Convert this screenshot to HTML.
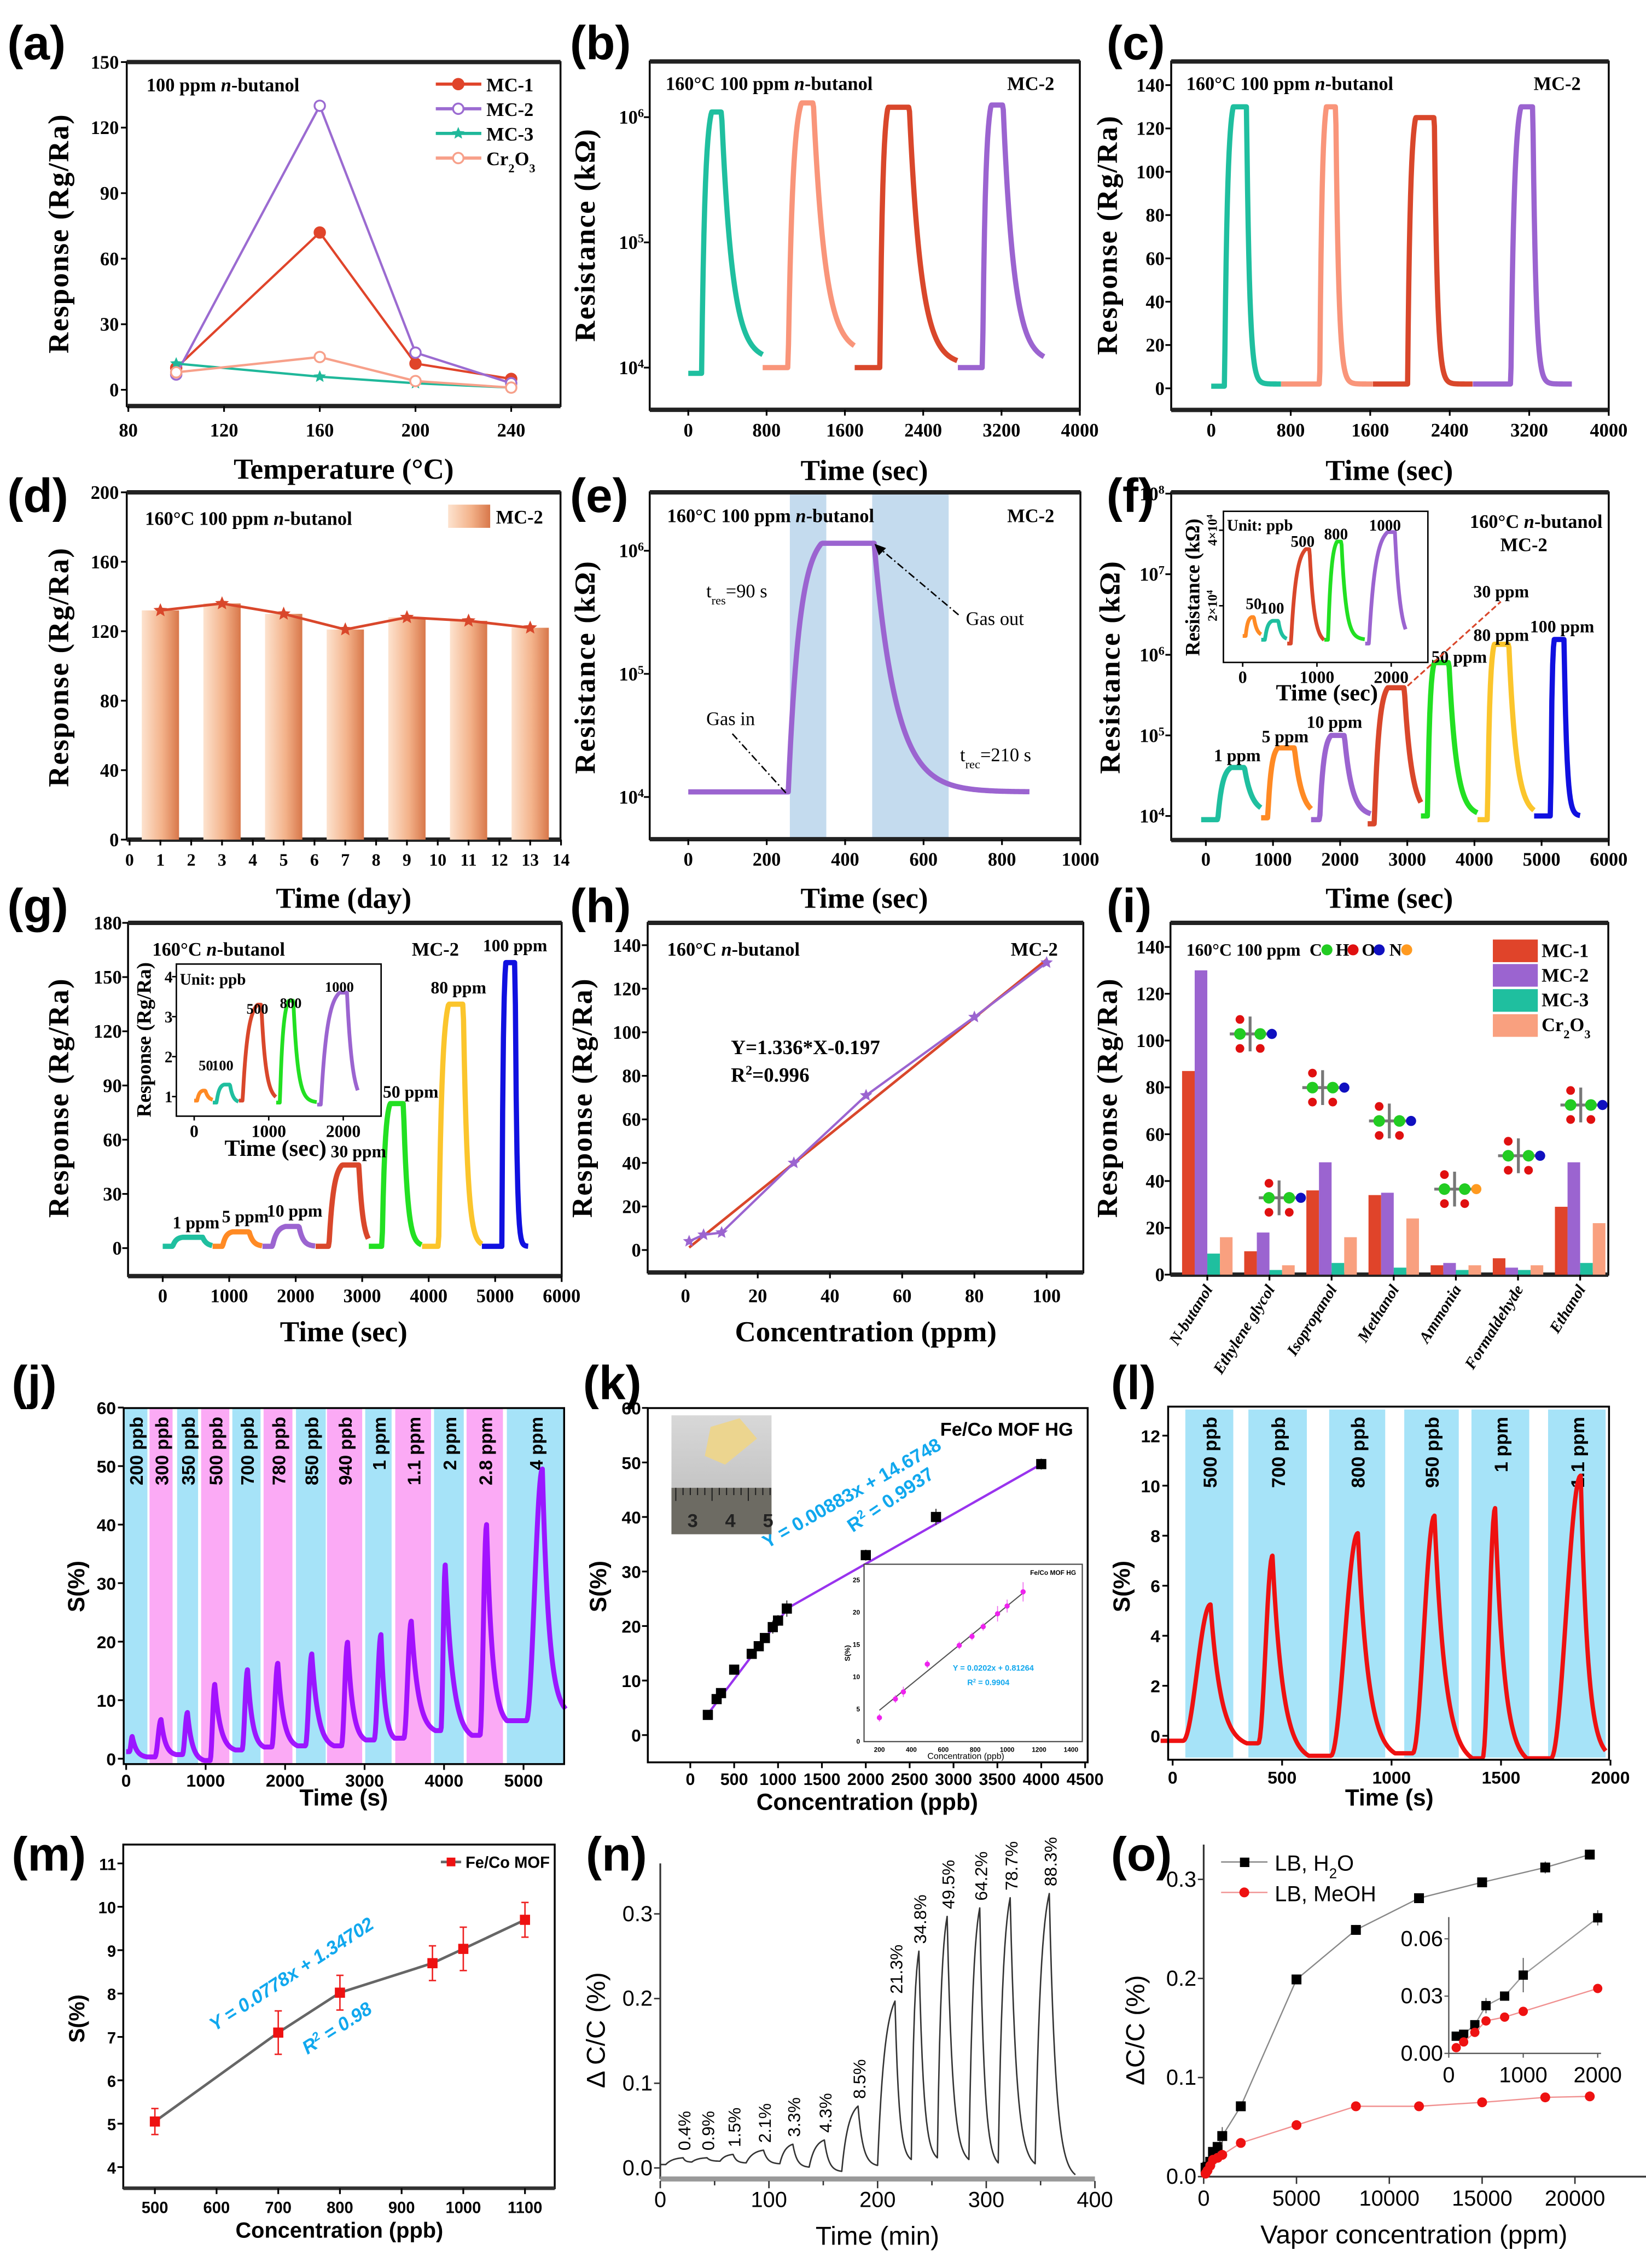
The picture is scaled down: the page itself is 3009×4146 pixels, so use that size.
<!DOCTYPE html>
<html><head><meta charset="utf-8">
<style>html,body{margin:0;padding:0;background:#fff}svg{display:block}</style>
</head><body>
<svg id="fig" xmlns="http://www.w3.org/2000/svg" width="3009" height="4146" viewBox="0 0 1135 1564" preserveAspectRatio="none">
<defs>
<linearGradient id="barGrad" x1="0" x2="1" y1="0" y2="0"><stop offset="0" stop-color="#fde3cf"/><stop offset="0.55" stop-color="#f3b28a"/><stop offset="1" stop-color="#d8774a"/></linearGradient>
<linearGradient id="photoGrad" x1="0" x2="0" y1="0" y2="1"><stop offset="0" stop-color="#d8d8d8"/><stop offset="1" stop-color="#b9b9b9"/></linearGradient>
</defs>
<rect x="0" y="0" width="1135" height="1564" fill="#fff"/>
</svg>
<script>
// ---------- data ----------
const aTemps=[100,160,200,240];
const aMC1=[10,72,12,5];
const aMC2=[7,130,17,3];
const aMC3=[12,6,3,1];
const aCr=[8,15,4,1];
const aXTicks=[80,120,160,200,240];
const aYTicks=[0,30,60,90,120,150];

const bSegStart=[0,760,1700,2754];
const bRise=[136,1020,1958,3006];
const bTop=[238,1156,2040,3094];
const bFall=[340,1278,2258,3216];
const bSegEnd=[760,1700,2754,3638];
const bBase0=[9000,10000,10000,10000];
const bBase1=[11500,13000,10500,11000];
const bPeak=[1.1e6,1.3e6,1.2e6,1.25e6];
const bTau=[110,120,120,110];
const bXTicks=[0,800,1600,2400,3200,4000];

const cSegStart=[0,703,1628,2633];
const cRise=[134,1092,1976,3015];
const cTop=[221,1159,2057,3116];
const cFall=[355,1253,2245,3236];
const cSegEnd=[703,1628,2633,3631];
const cBase0=[1,2,2,2];
const cBase1=[2,2,2,2];
const cPeak=[130,130,125,130];
const cTau=[30,30,30,30];
const cYTicks=[0,20,40,60,80,100,120,140];

const dDays=[1,3,5,7,9,11,13];
const dResp=[132,136,130,121,128,126,122];
const dYTicks=[0,40,80,120,160,200];

const eSegStart=[0];
const eRise=[255];
const eTop=[340];
const eFall=[474];
const eSegEnd=[870];
const eBase0=[11000];
const eBase1=[11000];
const ePeak=[1.15e6];
const eTau=[55];
const eShadeStart=[259,469];
const eShadeEnd=[352,664];
const eXTicks=[0,200,400,600,800,1000];

const fSegStart=[-70,823,1567,2410,3203,4046,4889];
const fRise=[178,922,1696,2509,3302,4195,5137];
const fTop=[377,1071,1864,2707,3401,4294,5187];
const fFall=[575,1319,2063,2955,3620,4512,5335];
const fSegEnd=[823,1567,2459,3203,4046,4889,5583];
const fBase0=[9000,9500,9000,8000,10000,9000,10000];
const fBase1=[11000,10000,10000,10000,10000,10000,10000];
const fPeak=[40000,70000,100000,390000,800000,1350000,1550000];
const fTau=[110,110,110,110,110,110,40];
const fLabels=['1 ppm','5 ppm','10 ppm','30 ppm','50 ppm','80 ppm','100 ppm'];
const fXTicks=[0,1000,2000,3000,4000,5000,6000];
const fiSegStart=[0,250,600,1100,1650];
const fiRise=[40,300,650,1150,1700];
const fiTop=[120,400,850,1270,1950];
const fiFall=[150,480,900,1330,2050];
const fiSegEnd=[250,600,1100,1650,2200];
const fiBase=[12000,11000,10000,11000,10000];
const fiPeak=[17000,16000,35000,37000,39500];
const fiTau=[40,40,60,60,70];

const gSegStart=[0,750,1500,2300,3100,3900,4800];
const gRise=[150,900,1650,2500,3300,4150,5100];
const gTop=[300,1050,1850,2700,3420,4300,5160];
const gFall=[600,1300,2050,2950,3620,4520,5300];
const gSegEnd=[750,1500,2300,3100,3900,4800,5500];
const gBase=[1,1,1,1,1,1,1];
const gPeak=[6,9,12,46,80,135,158];
const gTau=[60,60,60,60,60,60,25];
const gYTicks=[0,30,60,90,120,150,180];
const giSegStart=[0,250,600,1100,1650];
const giRise=[40,300,650,1150,1700];
const giTop=[120,400,850,1270,1950];
const giFall=[150,480,900,1330,2050];
const giSegEnd=[250,600,1100,1650,2200];
const giBase=[0.9,0.85,0.9,0.85,0.8];
const giPeak=[1.15,1.3,3.3,3.4,3.6];
const giTau=[40,40,60,60,70];

const hConc=[1,5,10,30,50,80,100];
const hResp=[4,7,8,40,71,107,132];
const hSlope=1.336;
const hIntercept=-0.197;

const iCats=['N-butanol','Ethylene glycol','Isopropanol','Methanol','Ammonia','Formaldehyde','Ethanol'];
const iMC1=[87,10,36,34,4,7,29];
const iMC2=[130,18,48,35,5,3,48];
const iMC3=[9,2,5,3,2,2,5];
const iCr=[16,4,16,24,4,4,22];

const jPeakT=[76,439,771,1115,1527,1908,2336,2786,3206,3588,4015,4535,5237];
const jPeak=[3.8,6.7,7.9,12.7,15.2,16.3,17.9,19.9,21.2,23.5,33.1,40,49.5];
const jValleyT=[267,630,985,1374,1737,2157,2615,3015,3378,3893,4351,4790,5530];
const jValley=[0.3,0.7,-0.3,1.5,2,2.2,2.2,3.2,3.5,4.8,4.0,6.5,8.5];
const jBandStart=[-30,294,641,943,1336,1729,2137,2527,3008,3386,3874,4283,4790];
const jBandEnd=[267,584,905,1298,1691,2092,2511,2970,3340,3836,4248,4741,5535];
const jBandLabels=['200 ppb','300 ppb','350 ppb','500 ppb','700 ppb','780 ppb','850 ppb','940 ppb','1 ppm','1.1 ppm','2 ppm','2.8 ppm','4 ppm'];

const kConc=[200,300,350,500,700,780,850,940,1000,1100,2000,2800,4000];
const kS=[3.7,6.6,7.7,12,14.9,16.3,17.8,19.8,21,23.2,33,40,49.7];
const kErr=[0.6,0.6,0.8,0.6,0.6,0.6,0.6,1.2,1.0,1.5,1.0,1.5,1.0];
const kLowFit=[0.0202,0.81264];
const kHighFit=[0.00883,14.6748];

const lPeakT=[173,456,846,1196,1473,1864];
const lPeak=[5.25,7.2,8.1,8.8,9.1,10.4];
const lValleyT=[339,622,1016,1369,1618,1978];
const lValley=[-0.3,-0.8,-0.7,-0.9,-0.9,-0.6];
const lBandStart=[58,346,715,1058,1365,1715];
const lBandEnd=[277,613,971,1307,1629,1978];
const lBandLabels=['500 ppb','700 ppb','800 ppb','950 ppb','1 ppm','1.1 ppm'];

const mConc=[500,700,800,950,1000,1100];
const mS=[5.05,7.1,8.02,8.7,9.03,9.7];
const mErr=[0.3,0.5,0.4,0.4,0.5,0.4];

const nStart=[5,29,55,79,110,137,167,200,231,255,284,311,345];
const nPeakT=[21,43,67,95,122,151,182,216,238,264,294,322,358];
const nPeak=[0.012,0.012,0.016,0.021,0.028,0.033,0.073,0.197,0.256,0.297,0.307,0.319,0.324];
const nValley=[0.007,0.008,0.006,0.005,0.001,-0.004,0.003,0.01,0.012,0.01,0.006,0.005,-0.008];
const nLabels=['0.4%','0.9%','1.5%','2.1%','3.3%','4.3%','8.5%','21.3%','34.8%','49.5%','64.2%','78.7%','88.3%'];

const oConc=[100,200,350,500,750,1000,2000,5000,8200,11600,15000,18400,20800];
const oH2O=[0.009,0.01,0.015,0.025,0.03,0.041,0.071,0.199,0.249,0.281,0.297,0.312,0.325];
const oMeOH=[0.003,0.006,0.011,0.017,0.019,0.022,0.034,0.052,0.071,0.071,0.075,0.08,0.081];
const oH2OErr=[0.001,0.001,0.002,0.004,0.002,0.009,0.004,0.004,0.005,0.004,0.003,0.006,0.005];

// ---------- helpers ----------
const NS='http://www.w3.org/2000/svg';
const root=document.getElementById('fig');
const SERIF='"Liberation Serif", serif';
const SANS='"Liberation Sans", sans-serif';
function el(p,tag,a,name){
  const e=document.createElementNS(NS,tag);
  for(const k in a) e.setAttribute(k,a[k]);
  
  
  p.appendChild(e);
  return e;
}
function grp(name){return el(root,'g',{},name);}
function T(p,x,y,s,o,name){
  o=o||{};
  const a={x:x,y:y,'font-family':o.f||SERIF,'font-size':o.s||13,'font-weight':o.w||'bold',fill:o.c||'#000','text-anchor':o.a||'start'};
  if(o.r!==undefined) a.transform='rotate('+o.r+' '+x+' '+y+')';
  if(o.ls) a['letter-spacing']=o.ls;
  if(o.st) a['font-style']=o.st;
  const e=el(p,'text',a,name);
  if(typeof s==='string'){e.textContent=s;}
  else{
    s.forEach(part=>{
      const ta={};
      if(part.i) ta['font-style']='italic';
      if(part.sup){ta['baseline-shift']='super';ta['font-size']='65%';}
      if(part.sub){ta['baseline-shift']='sub';ta['font-size']='65%';}
      const t=el(e,'tspan',ta,name+'-part');
      t.textContent=part.t;
    });
  }
  return e;
}
function L(d0,d1,r0,r1){return v=>r0+(v-d0)*(r1-r0)/(d1-d0);}
function LG(d0,d1,r0,r1){const f=L(d0,d1,r0,r1);return v=>f(Math.log10(v));}
function ln(p,x1,y1,x2,y2,c,w,name,dash){const a={x1:x1,y1:y1,x2:x2,y2:y2,stroke:c,'stroke-width':w};if(dash)a['stroke-dasharray']=dash;return el(p,'line',a,name);}
function frame(p,x0,y0,x1,y1,name,tb){
  el(p,'rect',{x:x0,y:y0,width:x1-x0,height:y1-y0,fill:'none',stroke:'#000','stroke-width':1.3},name);
  if(tb){ln(p,x0,y0,x1,y0,'#222',3,name+'-top');ln(p,x0,y1,x1,y1,'#222',3,name+'-bottom');}
}
function xt(p,sx,vals,labs,yA,ly,o,name){
  vals.forEach((v,i)=>{const x=sx(v);ln(p,x,yA,x,yA+4,'#000',1.2,name+'-tick');T(p,x,ly,labs[i],Object.assign({a:'middle'},o),name+'-label');});
}
function yt(p,sy,vals,labs,xA,lx,o,name){
  vals.forEach((v,i)=>{const y=sy(v);ln(p,xA-4,y,xA,y,'#000',1.2,name+'-tick');T(p,lx,y+4.5,labs[i],Object.assign({a:'end'},o),name+'-label');});
}
function poly(p,pts,c,w,name,extra){const a={points:pts.map(q=>q[0].toFixed(2)+','+q[1].toFixed(2)).join(' '),fill:'none',stroke:c,'stroke-width':w,'stroke-linejoin':'round'};if(extra)Object.assign(a,extra);return el(p,'polyline',a,name);}
function starPts(cx,cy,r){const a=[];for(let k=0;k<10;k++){const rr=k%2?r*0.45:r;const t=-Math.PI/2+k*Math.PI/5;a.push((cx+rr*Math.cos(t)).toFixed(2)+','+(cy+rr*Math.sin(t)).toFixed(2));}return a.join(' ');}
function star(p,cx,cy,r,c,name){return el(p,'polygon',{points:starPts(cx,cy,r),fill:c},name);}
function pulseSeg(s,r,pk0,q,e,b0,b1,pk,tau,dt,lg){
  const pts=[];const tr=x=>lg?Math.log10(x):x, inv=x=>lg?Math.pow(10,x):x;
  const B0=tr(b0),B1=tr(b1),PK=tr(pk);
  for(let t=s;t<=e+1e-9;t+=dt){
    let v;
    if(t<r) v=B0;
    else if(t<pk0){const u=(t-r)/(pk0-r);v=B0+(PK-B0)*(1-Math.exp(-3*u))/(1-Math.exp(-3));}
    else if(t<=q) v=PK;
    else v=B1+(PK-B1)*Math.exp(-(t-q)/tau);
    pts.push([t,inv(v)]);
  }
  return pts;
}
function peakValley(t0,v0,PT,PV,VT,VV,riseFrac,dt){
  const pts=[[t0,v0]];let pt=t0,pv=v0;
  for(let i=0;i<PT.length;i++){
    const rs=PT[i]-riseFrac*(PT[i]-pt);
    for(let t=pt+dt;t<PT[i];t+=dt){let v;if(t<rs)v=pv;else{const u=(t-rs)/(PT[i]-rs);v=pv+(PV[i]-pv)*(1-Math.cos(Math.PI*u))/2;}pts.push([t,v]);}
    pts.push([PT[i],PV[i]]);
    for(let t=PT[i]+dt;t<VT[i];t+=dt){const u=(t-PT[i])/(VT[i]-PT[i]);const f=(Math.exp(-3.5*u)-Math.exp(-3.5))/(1-Math.exp(-3.5));pts.push([t,VV[i]+(PV[i]-VV[i])*f]);}
    pts.push([VT[i],VV[i]]);pt=VT[i];pv=VV[i];
  }
  return pts;
}
const fmt=v=>String(v);

// ================= PANEL A =================
(function(){
  const g=grp('panel-a');
  const sx=L(80,240,88.5,352.5), sy=L(0,150,268.8,42.8);
  T(g,5,41,'(a)',{f:SANS,s:33},'panel-label-a');
  frame(g,87.4,42.8,386.5,280,'plot-frame-a',true);
  xt(g,sx,aXTicks,aXTicks.map(fmt),280,301,{s:13},'x-tick-a');
  yt(g,sy,aYTicks,aYTicks.map(fmt),87.4,82,{s:13},'y-tick-a');
  T(g,47,161,'Response (Rg/Ra)',{s:20,a:'middle',r:-90,ls:0.8},'y-axis-title-a');
  T(g,237,330,'Temperature (°C)',{s:20,a:'middle'},'x-axis-title-a');
  T(g,101,63,[{t:'100 ppm '},{t:'n',i:1},{t:'-butanol'}],{s:13},'panel-title-a');
  const series=[[aMC1,'#e0442a','filled'],[aMC2,'#9b6bd1','half'],[aMC3,'#1fb89a','star'],[aCr,'#f7a08a','open']];
  const names=['MC-1','MC-2','MC-3','Cr2O3'];
  series.forEach((s,k)=>{
    poly(g,aTemps.map((t,i)=>[sx(t),sy(s[0][i])]),s[1],1.6,'series-line-'+names[k]);
    aTemps.forEach((t,i)=>{
      const x=sx(t),y=sy(s[0][i]);
      if(s[2]==='star') star(g,x,y,4.5,s[1],'marker-'+names[k]);
      else el(g,'circle',{cx:x,cy:y,r:3.6,fill:s[2]==='filled'?s[1]:'#fff',stroke:s[1],'stroke-width':1.3},'marker-'+names[k]);
    });
    const ly=58+k*17;
    ln(g,300.5,ly,331.9,ly,s[1],2.2,'legend-line-'+names[k]);
    if(s[2]==='star') star(g,316,ly,4.5,s[1],'legend-marker-'+names[k]);
    else el(g,'circle',{cx:316,cy:ly,r:3.6,fill:s[2]==='filled'?s[1]:'#fff',stroke:s[1],'stroke-width':1.3},'legend-marker-'+names[k]);
  });
  T(g,335.4,63,'MC-1',{s:13},'legend-label-mc1');
  T(g,335.4,80,'MC-2',{s:13},'legend-label-mc2');
  T(g,335.4,97,'MC-3',{s:13},'legend-label-mc3');
  T(g,335.4,114,[{t:'Cr'},{t:'2',sub:1},{t:'O'},{t:'3',sub:1}],{s:13},'legend-label-cr2o3');
})();

function drawPulses(g,sx,sy,S,R,P,Q,E,B0,B1,PK,TAU,colors,lg,dt,w,name){
  S.forEach((s,i)=>{
    const pts=pulseSeg(s,R[i],P[i],Q[i],E[i],B0[i],B1[i],PK[i],TAU[i],dt,lg);
    poly(g,pts.map(q=>[sx(q[0]),sy(q[1])]),colors[i],w,name+'-'+i);
  });
}

// ================= PANEL B =================
(function(){
  const g=grp('panel-b');
  const sx=L(0,4000,474.6,744.6), sy=LG(4,6,253.5,80.8);
  T(g,393,41,'(b)',{f:SANS,s:33},'panel-label-b');
  frame(g,448,42.4,744.6,282.6,'plot-frame-b',true);
  xt(g,sx,bXTicks,bXTicks.map(fmt),282.6,301,{s:13},'x-tick-b');
  [1e4,1e5,1e6].forEach((v,i)=>{const y=sy(v);ln(g,444,y,448,y,'#000',1.2,'y-tick-b');T(g,444,y+4.5,[{t:'10'},{t:String(4+i),sup:1}],{s:13,a:'end'},'y-tick-label-b');});
  T(g,410,162,'Resistance (kΩ)',{s:20,a:'middle',r:-90,ls:0.8},'y-axis-title-b');
  T(g,596,331,'Time (sec)',{s:20,a:'middle'},'x-axis-title-b');
  T(g,459,62,[{t:'160°C 100 ppm '},{t:'n',i:1},{t:'-butanol'}],{s:13},'panel-title-b');
  T(g,727,62,'MC-2',{s:13,a:'end'},'sample-label-b');
  drawPulses(g,sx,sy,bSegStart,bRise,bTop,bFall,bSegEnd,bBase0,bBase1,bPeak,bTau,['#1fbf9f','#f9957a','#d9472b','#9b64d0'],true,8,3.6,'resistance-trace-b');
})();

// ================= PANEL C =================
(function(){
  const g=grp('panel-c');
  const sx=L(0,4000,835.2,1109.3), sy=L(0,140,267.8,58.7);
  T(g,763,41,'(c)',{f:SANS,s:33},'panel-label-c');
  frame(g,807.6,42.4,1109.3,282.7,'plot-frame-c',true);
  xt(g,sx,bXTicks,bXTicks.map(fmt),282.7,301,{s:13},'x-tick-c');
  yt(g,sy,cYTicks,cYTicks.map(fmt),807.6,803,{s:13},'y-tick-c');
  T(g,770,162,'Response (Rg/Ra)',{s:20,a:'middle',r:-90,ls:0.8},'y-axis-title-c');
  T(g,958,331,'Time (sec)',{s:20,a:'middle'},'x-axis-title-c');
  T(g,818,62,[{t:'160°C 100 ppm '},{t:'n',i:1},{t:'-butanol'}],{s:13},'panel-title-c');
  T(g,1090,62,'MC-2',{s:13,a:'end'},'sample-label-c');
  drawPulses(g,sx,sy,cSegStart,cRise,cTop,cFall,cSegEnd,cBase0,cBase1,cPeak,cTau,['#1fbf9f','#f9957a','#d9472b','#9b64d0'],false,6,3.6,'response-trace-c');
})();

// ================= PANEL D =================
(function(){
  const g=grp('panel-d');
  const sx=L(1,13,110.6,365.6), sy=L(0,200,579,339.5);
  T(g,5,353,'(d)',{f:SANS,s:33},'panel-label-d');
  frame(g,87.4,339.5,386.5,579,'plot-frame-d',true);
  const dx=[0,1,2,3,4,5,6,7,8,9,10,11,12,13,14];
  xt(g,sx,dx,dx.map(fmt),579,597,{s:12},'x-tick-d');
  yt(g,sy,dYTicks,dYTicks.map(fmt),87.4,82,{s:13},'y-tick-d');
  T(g,47,460,'Response (Rg/Ra)',{s:20,a:'middle',r:-90,ls:0.8},'y-axis-title-d');
  T(g,237,626,'Time (day)',{s:20,a:'middle'},'x-axis-title-d');
  T(g,100,362,[{t:'160°C 100 ppm '},{t:'n',i:1},{t:'-butanol'}],{s:13},'panel-title-d');
  dDays.forEach((d,i)=>{el(g,'rect',{x:sx(d)-12.85,y:sy(dResp[i]),width:25.7,height:sy(0)-sy(dResp[i]),fill:'url(#barGrad)'},'bar-day-'+d);});
  poly(g,dDays.map((d,i)=>[sx(d),sy(dResp[i])]),'#d9472b',1.8,'response-line-d');
  dDays.forEach((d,i)=>star(g,sx(d),sy(dResp[i]),5,'#d9472b','star-marker-d'));
  el(g,'rect',{x:309,y:348,width:29,height:16,fill:'url(#barGrad)'},'legend-swatch-d');
  T(g,342,361,'MC-2',{s:13},'legend-label-d');
})();

// ================= PANEL E =================
(function(){
  const g=grp('panel-e');
  const sx=L(0,1000,474.6,745), sy=LG(4,6,549.6,379.8);
  T(g,393,353,'(e)',{f:SANS,s:33},'panel-label-e');
  eShadeStart.forEach((s,i)=>el(g,'rect',{x:sx(s),y:339.5,width:sx(eShadeEnd[i])-sx(s),height:239.2,fill:'#c4dbee'},'shaded-region-'+i));
  frame(g,448,339.5,745,578.7,'plot-frame-e',true);
  xt(g,sx,eXTicks,eXTicks.map(fmt),578.7,597,{s:13},'x-tick-e');
  [1e4,1e5,1e6].forEach((v,i)=>{const y=sy(v);ln(g,444,y,448,y,'#000',1.2,'y-tick-e');T(g,444,y+4.5,[{t:'10'},{t:String(4+i),sup:1}],{s:13,a:'end'},'y-tick-label-e');});
  T(g,410,460,'Resistance (kΩ)',{s:20,a:'middle',r:-90,ls:0.8},'y-axis-title-e');
  T(g,596,626,'Time (sec)',{s:20,a:'middle'},'x-axis-title-e');
  T(g,460,360,[{t:'160°C 100 ppm '},{t:'n',i:1},{t:'-butanol'}],{s:13},'panel-title-e');
  T(g,727,360,'MC-2',{s:13,a:'end'},'sample-label-e');
  drawPulses(g,sx,sy,eSegStart,eRise,eTop,eFall,eSegEnd,eBase0,eBase1,ePeak,eTau,['#9b64d0'],true,3,3.6,'resistance-trace-e');
  T(g,487,500,'Gas in',{s:13,w:'normal'},'annotation-gas-in');
  ln(g,505,506,543,548,'#000',1,'arrow-gas-in','5,2,1,2');
  T(g,666,431,'Gas out',{s:13,w:'normal'},'annotation-gas-out');
  ln(g,661,424,604,376,'#000',1,'arrow-gas-out','5,2,1,2');
  el(g,'polygon',{points:'603,375 611,378 606,383'},'arrowhead-gas-out');
  T(g,487,412,[{t:'t'},{t:'res',sub:1},{t:'=90 s'}],{s:13,w:'normal'},'annotation-t-res');
  T(g,662,525,[{t:'t'},{t:'rec',sub:1},{t:'=210 s'}],{s:13,w:'normal'},'annotation-t-rec');
})();

// ================= PANEL F =================
(function(){
  const g=grp('panel-f');
  const sx=L(0,6000,831.5,1109.3), sy=LG(4,8,562.7,340.4);
  T(g,763,353,'(f)',{f:SANS,s:33},'panel-label-f');
  frame(g,807.6,339.5,1109.3,579.3,'plot-frame-f',true);
  xt(g,sx,fXTicks,fXTicks.map(fmt),579.3,597,{s:13},'x-tick-f');
  [1e4,1e5,1e6,1e7,1e8].forEach((v,i)=>{const y=sy(v);ln(g,803.6,y,807.6,y,'#000',1.2,'y-tick-f');T(g,803,y+4.5,[{t:'10'},{t:String(4+i),sup:1}],{s:13,a:'end'},'y-tick-label-f');});
  T(g,772,460,'Resistance (kΩ)',{s:20,a:'middle',r:-90,ls:0.8},'y-axis-title-f');
  T(g,958,626,'Time (sec)',{s:20,a:'middle'},'x-axis-title-f');
  const cols=['#1fbf9f','#ff8a24','#9b64d0','#d9472b','#22e022','#fbc52c','#1010e0'];
  drawPulses(g,sx,sy,fSegStart,fRise,fTop,fFall,fSegEnd,fBase0,fBase1,fPeak,fTau,cols,true,12,3.6,'resistance-trace-f');
  const lp=[[837,525],[870,512],[901,502],[1016,412],[987,457],[1016,442],[1055,436]];
  fLabels.forEach((s,i)=>T(g,lp[i][0],lp[i][1],s,{s:12},'peak-label-'+s.replace(' ','-')));
  ln(g,970.6,473,1034.9,414.9,'#d9472b',1.2,'dashed-arrow-f','4,2');
  T(g,1105,364,[{t:'160°C '},{t:'n',i:1},{t:'-butanol'}],{s:13,a:'end'},'panel-title-f');
  T(g,1067,380,'MC-2',{s:13,a:'end'},'sample-label-f');
  const ix=L(0,2000,856.9,959.3), iy=L(5000,45000,456.8,352.6);
  el(g,'rect',{x:843.6,y:352.6,width:141,height:104.2,fill:'#fff',stroke:'#000','stroke-width':1},'inset-frame-f');
  [0,1000,2000].forEach(v=>{ln(g,ix(v),456.8,ix(v),459.8,'#000',1,'inset-x-tick-f');T(g,ix(v),471,String(v),{s:12,a:'middle'},'inset-x-label-f');});
  [20000,40000].forEach((v,i)=>{ln(g,840.6,iy(v),843.6,iy(v),'#000',1,'inset-y-tick-f');T(g,839,iy(v),[{t:(2*(i+1))+'×10'},{t:'4',sup:1}],{s:9,a:'middle',r:-90},'inset-y-label-f');});
  T(g,827,405,'Resistance (kΩ)',{s:14,a:'middle',r:-90},'inset-y-title-f');
  T(g,915,483,'Time (sec)',{s:16,a:'middle'},'inset-x-title-f');
  T(g,846,366,'Unit: ppb',{s:11},'inset-unit-f');
  const icol=['#ff8a24','#1fbf9f','#d9472b','#22e022','#9b64d0'];
  fiSegStart.forEach((s,i)=>{const pts=pulseSeg(s,fiRise[i],fiTop[i],fiFall[i],fiSegEnd[i],fiBase[i],fiBase[i],fiPeak[i],fiTau[i],8,false);poly(g,pts.map(q=>[ix(q[0]),iy(q[1])]),icol[i],2.6,'inset-trace-f-'+i);});
  T(g,859,420,'50',{s:11},'inset-label-50');
  T(g,869,423,'100',{s:11},'inset-label-100');
  T(g,890,377,'500',{s:11},'inset-label-500');
  T(g,913,372,'800',{s:11},'inset-label-800');
  T(g,944,366,'1000',{s:11},'inset-label-1000');
})();

// ================= PANEL G =================
(function(){
  const g=grp('panel-g');
  const sx=L(0,6000,112.2,387.3), sy=L(0,180,860.7,636.4);
  T(g,5,636,'(g)',{f:SANS,s:33},'panel-label-g');
  frame(g,88.3,636.4,387.3,880,'plot-frame-g',true);
  xt(g,sx,fXTicks,fXTicks.map(fmt),880,898,{s:13},'x-tick-g');
  yt(g,sy,gYTicks,gYTicks.map(fmt),88.3,84,{s:13},'y-tick-g');
  T(g,47,757,'Response (Rg/Ra)',{s:20,a:'middle',r:-90,ls:0.8},'y-axis-title-g');
  T(g,237,925,'Time (sec)',{s:20,a:'middle'},'x-axis-title-g');
  const cols=['#1fbf9f','#ff8a24','#9b64d0','#d9472b','#22e022','#fbc52c','#1010e0'];
  drawPulses(g,sx,sy,gSegStart,gRise,gTop,gFall,gSegEnd,gBase,gBase,gPeak,gTau,cols,false,12,3.6,'response-trace-g');
  const lab=['1 ppm','5 ppm','10 ppm','30 ppm','50 ppm','80 ppm','100 ppm'];
  const lp=[[119,847],[153,843],[184,839],[228,798],[264,757],[297,685],[333,656]];
  lab.forEach((s,i)=>T(g,lp[i][0],lp[i][1],s,{s:12},'peak-label-g-'+i));
  T(g,105,659,[{t:'160°C '},{t:'n',i:1},{t:'-butanol'}],{s:13},'panel-title-g');
  T(g,284,659,'MC-2',{s:13},'sample-label-g');
  const ix=L(0,2000,133.9,236.7), iy=L(1,4,756.2,673.5);
  el(g,'rect',{x:121.6,y:664.8,width:141.2,height:104.9,fill:'#fff',stroke:'#000','stroke-width':1},'inset-frame-g');
  [0,1000,2000].forEach(v=>{ln(g,ix(v),769.7,ix(v),772.7,'#000',1,'inset-x-tick-g');T(g,ix(v),784,String(v),{s:12,a:'middle'},'inset-x-label-g');});
  [1,2,3,4].forEach(v=>{ln(g,118.6,iy(v),121.6,iy(v),'#000',1,'inset-y-tick-g');T(g,119,iy(v)+4,String(v),{s:11,a:'end'},'inset-y-label-g');});
  T(g,104,717,'Response (Rg/Ra)',{s:14,a:'middle',r:-90},'inset-y-title-g');
  T(g,190,797,'Time (sec)',{s:16,a:'middle'},'inset-x-title-g');
  T(g,124,679,'Unit: ppb',{s:11},'inset-unit-g');
  const icol=['#ff8a24','#1fbf9f','#d9472b','#22e022','#9b64d0'];
  giSegStart.forEach((s,i)=>{const pts=pulseSeg(s,giRise[i],giTop[i],giFall[i],giSegEnd[i],giBase[i],giBase[i],giPeak[i],giTau[i],8,false);poly(g,pts.map(q=>[ix(q[0]),iy(q[1])]),icol[i],2.6,'inset-trace-g-'+i);});
  T(g,137,738,'50',{s:10},'inset-label-g-50');
  T(g,146,738,'100',{s:10},'inset-label-g-100');
  T(g,170,699,'500',{s:10},'inset-label-g-500');
  T(g,193,695,'800',{s:10},'inset-label-g-800');
  T(g,224,684,'1000',{s:10},'inset-label-g-1000');
})();

// ================= PANEL H =================
(function(){
  const g=grp('panel-h');
  const sx=L(0,100,472.7,721.7), sy=L(0,140,862,651.8);
  T(g,393,636,'(h)',{f:SANS,s:33},'panel-label-h');
  frame(g,446.6,636.4,747,877.5,'plot-frame-h',true);
  const xv=[0,20,40,60,80,100];
  xt(g,sx,xv,xv.map(fmt),877.5,898,{s:13},'x-tick-h');
  yt(g,sy,cYTicks,cYTicks.map(fmt),446.6,442,{s:13},'y-tick-h');
  T(g,408,757,'Response (Rg/Ra)',{s:20,a:'middle',r:-90,ls:0.8},'y-axis-title-h');
  T(g,597,925,'Concentration (ppm)',{s:20,a:'middle'},'x-axis-title-h');
  T(g,460,659,[{t:'160°C '},{t:'n',i:1},{t:'-butanol'}],{s:13},'panel-title-h');
  T(g,697,659,'MC-2',{s:13},'sample-label-h');
  ln(g,sx(1),sy(hSlope*1+hIntercept),sx(100),sy(hSlope*100+hIntercept),'#d9472b',1.8,'fit-line-h');
  poly(g,hConc.map((c,i)=>[sx(c),sy(hResp[i])]),'#9b64d0',1.6,'response-line-h');
  hConc.forEach((c,i)=>star(g,sx(c),sy(hResp[i]),4.5,'#9b64d0','star-marker-h'));
  T(g,504,727,'Y=1.336*X-0.197',{s:14},'fit-equation-h');
  T(g,504,746,[{t:'R'},{t:'2',sup:1},{t:'=0.996'}],{s:14},'r-squared-h');
})();

// ================= PANEL I =================
(function(){
  const g=grp('panel-i');
  const sy=L(0,140,879,653);
  T(g,763,636,'(i)',{f:SANS,s:33},'panel-label-i');
  frame(g,807.1,636.4,1109,879,'plot-frame-i',true);
  yt(g,sy,cYTicks,cYTicks.map(fmt),807.1,803,{s:13},'y-tick-i');
  T(g,770,757,'Response (Rg/Ra)',{s:20,a:'middle',r:-90,ls:0.8},'y-axis-title-i');
  const sers=[iMC1,iMC2,iMC3,iCr], cols=['#e0442a','#9b64d0','#1fbf9f','#f9a07f'], nm=['MC-1','MC-2','MC-3','Cr2O3'];
  iCats.forEach((c,i)=>{
    const cx=832.5+i*42.85;
    ln(g,cx,879,cx,883,'#000',1.2,'x-tick-i');
    sers.forEach((s,k)=>{el(g,'rect',{x:cx-17.4+k*8.7,y:sy(s[i]),width:8.7,height:879-sy(s[i]),fill:cols[k]},'bar-'+nm[k]+'-'+c.replace(' ','-'));});
    T(g,cx+4,889,c,{s:11,a:'end',r:-58,st:'italic'},'category-label-'+i);
  });
  const ly=[647.9,664.8,682.1,699.4];
  nm.forEach((n,k)=>el(g,'rect',{x:1029.4,y:ly[k],width:31,height:15.6,fill:cols[k]},'legend-swatch-'+n));
  T(g,1063,660,'MC-1',{s:13},'legend-label-i-mc1');
  T(g,1063,677,'MC-2',{s:13},'legend-label-i-mc2');
  T(g,1063,694,'MC-3',{s:13},'legend-label-i-mc3');
  T(g,1063,711,[{t:'Cr'},{t:'2',sub:1},{t:'O'},{t:'3',sub:1}],{s:13},'legend-label-i-cr2o3');
  T(g,818,659,'160°C 100 ppm',{s:12},'panel-title-i');
  [['C',903,'#22cc22'],['H',921,'#e01010'],['O',939,'#1010c0'],['N',958,'#ff9a20']].forEach((a,k)=>{
    T(g,a[1],659,a[0],{s:12},'atom-key-label-'+a[0]);
    el(g,'circle',{cx:a[1]+12,cy:655,r:3.8,fill:a[2]},'atom-key-'+k);
  });
  const mols=[[862,713],[882,826],[912,750],[958,773],[1003,820],[1047,797],[1090,762]];
  mols.forEach((m,k)=>{
    const mg=el(g,'g',{},'molecule-'+k);
    ln(mg,m[0]-14,m[1],m[0]+14,m[1],'#777',2,'molecule-bond');
    ln(mg,m[0],m[1]-12,m[0],m[1]+12,'#777',2,'molecule-bond');
    el(mg,'circle',{cx:m[0]-7,cy:m[1],r:4,fill:'#22cc22'},'carbon-atom');
    el(mg,'circle',{cx:m[0]+7,cy:m[1],r:4,fill:'#22cc22'},'carbon-atom');
    el(mg,'circle',{cx:m[0]-7,cy:m[1]-10,r:3,fill:'#e01010'},'hydrogen-atom');
    el(mg,'circle',{cx:m[0]+7,cy:m[1]+10,r:3,fill:'#e01010'},'hydrogen-atom');
    el(mg,'circle',{cx:m[0]-7,cy:m[1]+10,r:3,fill:'#e01010'},'hydrogen-atom');
    el(mg,'circle',{cx:m[0]+15,cy:m[1],r:3.5,fill:k===4?'#ff9a20':'#1010c0'},'hetero-atom');
  });
})();

// ================= PANEL J =================
(function(){
  const g=grp('panel-j');
  const sx=L(0,1000,87,141.8), sy=L(0,50,1212.8,1011);
  T(g,8,965,'(j)',{f:SANS,s:33},'panel-label-j');
  jBandStart.forEach((s,i)=>{
    const x0=Math.max(sx(s),85.3), x1=Math.min(sx(jBandEnd[i]),389);
    el(g,'rect',{x:x0,y:971,width:x1-x0,height:245.5,fill:i%2?'#fbaaf5':'#a6e3f8'},'band-'+i);
    T(g,(x0+x1)/2+5,977,jBandLabels[i],{f:SANS,s:12.5,a:'end',r:-90},'band-label-'+i);
  });
  const pts=peakValley(0,1.2,jPeakT,jPeak,jValleyT,jValley,0.45,8);
  poly(g,pts.map(q=>[sx(q[0]),sy(q[1])]),'#9900ff',3.4,'signal-trace-j',{'stroke-opacity':0.9});
  frame(g,85.3,971,389,1216.5,'plot-frame-j',false);
  const xv=[0,1000,2000,3000,4000,5000];
  xt(g,sx,xv,xv.map(fmt),1216.5,1232,{f:SANS,s:12},'x-tick-j');
  const yv=[0,10,20,30,40,50,60];
  yt(g,sy,yv,yv.map(fmt),85.3,80,{f:SANS,s:12},'y-tick-j');
  T(g,58,1094,'S(%)',{f:SANS,s:16,a:'middle',r:-90},'y-axis-title-j');
  T(g,237,1245,'Time (s)',{f:SANS,s:16,a:'middle'},'x-axis-title-j');
})();

// ================= PANEL K =================
(function(){
  const g=grp('panel-k');
  const sx=L(0,4000,476,718), sy=L(0,10,1196.5,1158.9);
  T(g,402,965,'(k)',{f:SANS,s:33},'panel-label-k');
  frame(g,446.7,971,750,1215.3,'plot-frame-k',false);
  const xv=[0,500,1000,1500,2000,2500,3000,3500,4000,4500];
  xt(g,sx,xv,xv.map(fmt),1215.3,1231,{f:SANS,s:11.5},'x-tick-k');
  const yv=[0,10,20,30,40,50,60];
  yt(g,sy,yv,yv.map(fmt),446.7,442,{f:SANS,s:12},'y-tick-k');
  T(g,418,1094,'S(%)',{f:SANS,s:16,a:'middle',r:-90},'y-axis-title-k');
  T(g,598,1248,'Concentration (ppb)',{f:SANS,s:16,a:'middle'},'x-axis-title-k');
  ln(g,sx(200),sy(kLowFit[0]*200+kLowFit[1]-1),sx(1100),sy(kLowFit[0]*1100+kLowFit[1]),'#9933ee',1.6,'fit-line-low-k');
  ln(g,sx(1100),sy(kHighFit[0]*1100+kHighFit[1]-1.2),sx(4000),sy(kHighFit[0]*4000+kHighFit[1]-0.3),'#9933ee',1.6,'fit-line-high-k');
  kConc.forEach((c,i)=>{const x=sx(c),y=sy(kS[i]);ln(g,x,sy(kS[i]-kErr[i]),x,sy(kS[i]+kErr[i]),'#444',0.8,'error-bar-k');el(g,'rect',{x:x-3.5,y:y-3.5,width:7,height:7,fill:'#000'},'data-point-k');});
  T(g,740,990,'Fe/Co MOF HG',{f:SANS,s:13,a:'end'},'panel-title-k');
  T(g,529,1068,'Y = 0.00883x + 14.6748',{f:SANS,s:13,c:'#11a8ee',r:-29.7},'fit-equation-k');
  T(g,588,1057,[{t:'R'},{t:'2',sup:1},{t:' = 0.9937'}],{f:SANS,s:13,c:'#11a8ee',r:-34},'r-squared-k');
  el(g,'rect',{x:463,y:976,width:69,height:82,fill:'url(#photoGrad)'},'photo-inset-k');
  el(g,'polygon',{points:'490,984 510,978 522,992 500,1010 486,1004','fill':'#ecd58f'},'photo-sample-k');
  el(g,'rect',{x:463,y:1026,width:69,height:32,fill:'#6d6b63'},'photo-ruler-k');
  [0,1,2,3,4,5,6,7,8,9,10,11,12,13].forEach(k=>ln(g,466+k*5,1026,466+k*5,1031+(k%5===0?4:0),'#222',0.8,'ruler-tick'));
  T(g,474,1053,'3',{f:SANS,s:13,c:'#222'},'ruler-label-3');
  T(g,500,1053,'4',{f:SANS,s:13,c:'#222'},'ruler-label-4');
  T(g,526,1053,'5',{f:SANS,s:13,c:'#222'},'ruler-label-5');
  const ix=L(200,1400,606.4,738.5), iy=L(0,25,1201,1089.7);
  el(g,'rect',{x:595.8,y:1078.7,width:150.5,height:122.3,fill:'#fff',stroke:'#444','stroke-width':0.8},'inset-frame-k');
  [200,400,600,800,1000,1200,1400].forEach(v=>T(g,ix(v),1208,String(v),{f:SANS,s:4.5,a:'middle'},'inset-x-label-k'));
  [0,5,10,15,20,25].forEach(v=>T(g,593,iy(v)+1.5,String(v),{f:SANS,s:4.5,a:'end'},'inset-y-label-k'));
  T(g,666,1213,'Concentration (ppb)',{f:SANS,s:6,a:'middle',w:'normal'},'inset-x-title-k');
  T(g,586,1140,'S(%)',{f:SANS,s:5,a:'middle',r:-90},'inset-y-title-k');
  T(g,742,1086,'Fe/Co MOF HG',{f:SANS,s:4.5,a:'end'},'inset-title-k');
  ln(g,ix(200),iy(kLowFit[0]*200+kLowFit[1]),ix(1100),iy(kLowFit[0]*1100+kLowFit[1]),'#555',0.8,'inset-fit-line-k');
  kConc.slice(0,10).forEach((c,i)=>{const x=ix(c);ln(g,x,iy(kS[i]-kErr[i]),x,iy(kS[i]+kErr[i]),'#ee66ee',0.6,'inset-error-bar-k');el(g,'circle',{cx:x,cy:iy(kS[i]),r:1.8,fill:'#ee22ee'},'inset-point-k');});
  T(g,657,1152,'Y = 0.0202x + 0.81264',{f:SANS,s:5.5,c:'#11a8ee'},'inset-equation-k');
  T(g,667,1162,[{t:'R'},{t:'2',sup:1},{t:' = 0.9904'}],{f:SANS,s:5.5,c:'#11a8ee'},'inset-r-squared-k');
})();

// ================= PANEL L =================
(function(){
  const g=grp('panel-l');
  const sx=L(0,2000,808.6,1110.5), sy=L(0,12,1197,990);
  T(g,766,965,'(l)',{f:SANS,s:33},'panel-label-l');
  lBandStart.forEach((s,i)=>{
    el(g,'rect',{x:sx(s),y:972,width:sx(lBandEnd[i])-sx(s),height:240,fill:'#a6e3f8'},'band-l-'+i);
    T(g,(sx(s)+sx(lBandEnd[i]))/2+5,977,lBandLabels[i],{f:SANS,s:13,a:'end',r:-90},'band-label-l-'+i);
  });
  const pts=peakValley(-55,-0.2,lPeakT,lPeak,lValleyT,lValley,0.55,5);
  poly(g,pts.map(q=>[sx(q[0]),sy(q[1])]),'#ee1111',3,'signal-trace-l');
  frame(g,805.5,970,1109.5,1213.5,'plot-frame-l',false);
  const xv=[0,500,1000,1500,2000];
  xt(g,sx,xv,xv.map(fmt),1213.5,1230,{f:SANS,s:12},'x-tick-l');
  const yv=[0,2,4,6,8,10,12];
  yt(g,sy,yv,yv.map(fmt),805.5,800,{f:SANS,s:12},'y-tick-l');
  T(g,779,1094,'S(%)',{f:SANS,s:16,a:'middle',r:-90},'y-axis-title-l');
  T(g,958,1245,'Time (s)',{f:SANS,s:16,a:'middle'},'x-axis-title-l');
})();

// ================= PANEL M =================
(function(){
  const g=grp('panel-m');
  const sx=L(500,1100,106.8,362), sy=L(4,11,1494.4,1285);
  T(g,8,1290,'(m)',{f:SANS,s:33},'panel-label-m');
  frame(g,85,1272,382.5,1509,'plot-frame-m',false);
  ln(g,85,1509,382.5,1509,'#333',2.5,'x-axis-m');
  const xv=[500,600,700,800,900,1000,1100];
  xt(g,sx,xv,xv.map(fmt),1509,1526,{f:SANS,s:11},'x-tick-m');
  const yv=[4,5,6,7,8,9,10,11];
  yt(g,sy,yv,yv.map(fmt),85,80,{f:SANS,s:11},'y-tick-m');
  T(g,58,1392,'S(%)',{f:SANS,s:15,a:'middle',r:-90},'y-axis-title-m');
  T(g,234,1543,'Concentration (ppb)',{f:SANS,s:15,a:'middle'},'x-axis-title-m');
  poly(g,mConc.map((c,i)=>[sx(c),sy(mS[i])]),'#666',1.8,'response-line-m');
  mConc.forEach((c,i)=>{const x=sx(c);ln(g,x,sy(mS[i]-mErr[i]),x,sy(mS[i]+mErr[i]),'#ee2222',1,'error-bar-m');ln(g,x-2.5,sy(mS[i]-mErr[i]),x+2.5,sy(mS[i]-mErr[i]),'#ee2222',1,'error-cap-m');ln(g,x-2.5,sy(mS[i]+mErr[i]),x+2.5,sy(mS[i]+mErr[i]),'#ee2222',1,'error-cap-m');el(g,'rect',{x:x-3.5,y:sy(mS[i])-3.5,width:7,height:7,fill:'#ee1111'},'data-point-m');});
  ln(g,304,1284,318,1284,'#666',1.8,'legend-line-m');
  el(g,'rect',{x:308,y:1281,width:6,height:6,fill:'#ee1111'},'legend-marker-m');
  T(g,321,1288,'Fe/Co MOF',{f:SANS,s:11},'legend-label-m');
  T(g,148,1401,'Y = 0.0778x + 1.34702',{f:SANS,s:13,c:'#11a8ee',r:-33,st:'italic'},'fit-equation-m');
  T(g,212,1417,[{t:'R'},{t:'2',sup:1},{t:' = 0.98'}],{f:SANS,s:13,c:'#11a8ee',r:-33,st:'italic'},'r-squared-m');
})();

// ================= PANEL N =================
(function(){
  const g=grp('panel-n');
  const sx=L(0,400,455.3,755), sy=L(0,0.3,1495,1319.8);
  T(g,404,1290,'(n)',{f:SANS,s:33},'panel-label-n');
  ln(g,455.3,1285,455.3,1502.6,'#333',1.2,'y-axis-n');
  ln(g,455.3,1502.6,755,1502.6,'#999',3.5,'x-axis-n');
  const xv=[0,100,200,300,400];
  xv.forEach(v=>{ln(g,sx(v),1504,sx(v),1509,'#333',1,'x-tick-n');T(g,sx(v),1522,String(v),{f:SANS,s:15,w:'normal',a:'middle'},'x-tick-label-n');});
  [50,150,250,350].forEach(v=>ln(g,sx(v),1504,sx(v),1507,'#333',1,'x-minor-tick-n'));
  const yv=[0,0.1,0.2,0.3];
  yv.forEach(v=>{ln(g,451,sy(v),455.3,sy(v),'#333',1,'y-tick-n');T(g,450,sy(v)+5,v.toFixed(1),{f:SANS,s:15,w:'normal',a:'end'},'y-tick-label-n');});
  T(g,417,1400,'Δ C/C (%)',{f:SANS,s:18,w:'normal',a:'middle',r:-90},'y-axis-title-n');
  T(g,605,1548,'Time (min)',{f:SANS,s:18,w:'normal',a:'middle'},'x-axis-title-n');
  const pts=[];let v0=0.004;
  for(let i=0;i<nStart.length;i++){
    const s=nStart[i],p=nPeakT[i],pk=nPeak[i];const nxt=i+1<nStart.length?nStart[i+1]:382;
    const tr=(p-s)/2.5;
    for(let t=s;t<=p;t+=1){pts.push([t,v0+(pk-v0)*(1-Math.exp(-(t-s)/tr))/(1-Math.exp(-(p-s)/tr))]);}
    const td=(nxt-p)/4;const ve=nValley[i];
    for(let t=p+1;t<=nxt;t+=1){pts.push([t,ve+(pk-ve)*(Math.exp(-(t-p)/td)-Math.exp(-(nxt-p)/td))/(1-Math.exp(-(nxt-p)/td))]);}
    v0=ve;
  }
  pts.unshift([0,0.004]);
  poly(g,pts.map(q=>[sx(q[0]),sy(q[1])]),'#333',1,'capacitance-trace-n');
  nLabels.forEach((s,i)=>T(g,sx(nPeakT[i])+5,sy(nPeak[i])-5,s,{f:SANS,s:12,w:'normal',r:-90},'peak-label-n-'+i));
})();

// ================= PANEL O =================
(function(){
  const g=grp('panel-o');
  const sx=L(0,20000,830,1086), sy=L(0,0.3,1501,1296);
  T(g,766,1290,'(o)',{f:SANS,s:33},'panel-label-o');
  ln(g,830,1272,830,1501,'#333',1.2,'y-axis-o');
  ln(g,830,1501,1137,1501,'#333',1.2,'x-axis-o');
  [0,5000,10000,15000,20000].forEach(v=>{ln(g,sx(v),1501,sx(v),1506,'#333',1,'x-tick-o');T(g,sx(v),1521,String(v),{f:SANS,s:15,w:'normal',a:'middle'},'x-tick-label-o');});
  [0,0.1,0.2,0.3].forEach(v=>{ln(g,826,sy(v),830,sy(v),'#333',1,'y-tick-o');T(g,825,sy(v)+5,v.toFixed(1),{f:SANS,s:15,w:'normal',a:'end'},'y-tick-label-o');});
  T(g,789,1400,'ΔC/C (%)',{f:SANS,s:18,w:'normal',a:'middle',r:-90},'y-axis-title-o');
  T(g,975,1547,'Vapor concentration (ppm)',{f:SANS,s:18,w:'normal',a:'middle'},'x-axis-title-o');
  function drawSeries(xf,yf,xs,ys,err,col,lc,sq,nm,r){
    poly(g,xs.map((c,i)=>[xf(c),yf(ys[i])]),lc,0.9,nm+'-line');
    xs.forEach((c,i)=>{const x=xf(c),y=yf(ys[i]);if(err)ln(g,x,yf(ys[i]-err[i]),x,yf(ys[i]+err[i]),'#555',0.7,nm+'-error-bar');
      if(sq) el(g,'rect',{x:x-r,y:y-r,width:2*r,height:2*r,fill:col},nm+'-marker');
      else el(g,'circle',{cx:x,cy:y,r:r,fill:col},nm+'-marker');});
  }
  drawSeries(sx,sy,oConc,oH2O,oH2OErr,'#000','#888',true,'series-h2o',3.4);
  drawSeries(sx,sy,oConc,oMeOH,null,'#ee1111','#f09090',false,'series-meoh',3.4);
  ln(g,842,1284,874,1284,'#888',0.9,'legend-line-h2o');
  el(g,'rect',{x:855,y:1281,width:6.5,height:6.5,fill:'#000'},'legend-marker-h2o');
  T(g,879,1290,[{t:'LB, H'},{t:'2',sub:1},{t:'O'}],{f:SANS,s:15,w:'normal'},'legend-label-h2o');
  ln(g,842,1305,874,1305,'#f09090',0.9,'legend-line-meoh');
  el(g,'circle',{cx:858,cy:1305,r:3.4,fill:'#ee1111'},'legend-marker-meoh');
  T(g,879,1311,'LB, MeOH',{f:SANS,s:15,w:'normal'},'legend-label-meoh');
  const ix=L(0,2000,999,1101.7), iy=L(0,0.06,1416,1337);
  ln(g,999,1322,999,1416,'#555',0.9,'inset-y-axis-o');
  ln(g,999,1416,1104,1416,'#555',0.9,'inset-x-axis-o');
  [0,1000,2000].forEach(v=>{ln(g,ix(v),1416,ix(v),1419,'#555',0.8,'inset-x-tick-o');T(g,ix(v),1436,String(v),{f:SANS,s:15,w:'normal',a:'middle'},'inset-x-label-o');});
  [0,0.03,0.06].forEach(v=>{ln(g,996,iy(v),999,iy(v),'#555',0.8,'inset-y-tick-o');T(g,995,iy(v)+5,v.toFixed(2),{f:SANS,s:15,w:'normal',a:'end'},'inset-y-label-o');});
  const n=7;
  drawSeries(ix,iy,oConc.slice(0,n),oH2O.slice(0,n),oH2OErr.slice(0,n),'#000','#999',true,'inset-h2o',3.2);
  drawSeries(ix,iy,oConc.slice(0,n),oMeOH.slice(0,n),null,'#ee1111','#f09090',false,'inset-meoh',3.2);
})();
</script>
</body></html>
